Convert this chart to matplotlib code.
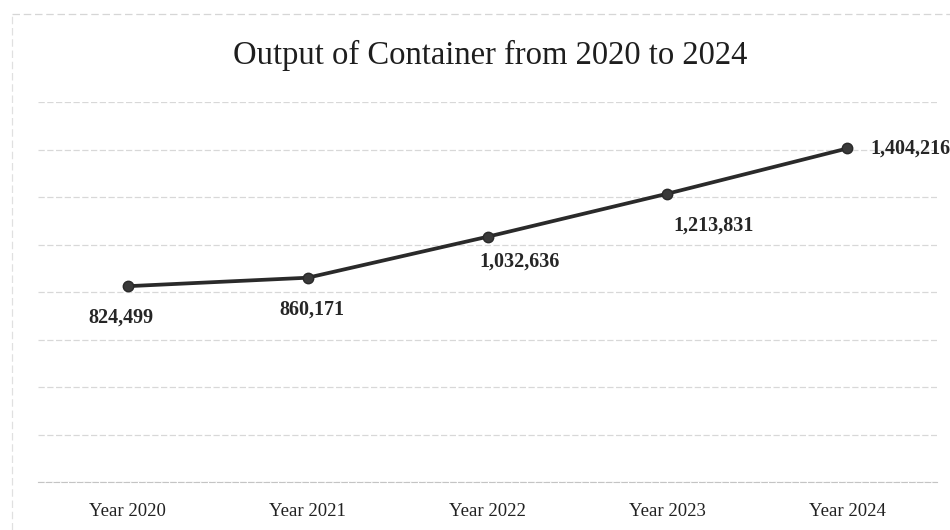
import matplotlib
matplotlib.use("Agg")
import matplotlib.pyplot as plt
from matplotlib.lines import Line2D

years = ["Year 2020", "Year 2021", "Year 2022", "Year 2023", "Year 2024"]
output = [824499, 860171, 1032636, 1213831, 1404216]

# where each value label sits relative to its point (pixels, y down)
label_dx = [-7, 4, 32, 46, 23]
label_dy = [31, 32, 25, 32, 0]

plt.rcParams['font.family'] = ['Liberation Serif', 'DejaVu Serif']

fig = plt.figure(figsize=(9.5, 5.3), dpi=100)
ax = fig.add_axes([38 / 950, 48 / 530, 899 / 950, 380 / 530])

x = list(range(len(years)))
ax.plot(x, output, color='#2a2a2a', linewidth=2.7, marker='o',
        markersize=7.5, markerfacecolor='#3a3a3a', markeredgecolor='#2a2a2a',
        zorder=3)

for i, v in enumerate(output):
    ha = 'left' if i == len(output) - 1 else 'center'
    ax.annotate(f"{v:,}", (i, v), xytext=(label_dx[i], -label_dy[i]),
                textcoords='offset pixels', ha=ha, va='center',
                fontsize=14.5, fontweight='bold', color='#262626',
                annotation_clip=False)

ax.set_xlim(-0.5, len(years) - 0.5)
ax.set_ylim(0, 1600000)
ax.set_yticks(range(0, 1600001, 200000))
ax.set_yticklabels([])
ax.tick_params(axis='y', length=0)
ax.set_xticks(x)
ax.set_xticklabels(years, fontsize=13.5, color='#222222')
ax.tick_params(axis='x', length=0, pad=15)

ax.grid(axis='y', color='#d8d8d8', linewidth=0.9, linestyle=(0, (5, 2)))
ax.set_axisbelow(True)
for s in ['top', 'right', 'left']:
    ax.spines[s].set_visible(False)
ax.spines['bottom'].set_color('#c4c4c4')
ax.spines['bottom'].set_linestyle((0, (5, 2)))

fig.text(490 / 950, 1 - 55 / 530, "Output of Container from 2020 to 2024",
         ha='center', va='center', fontsize=23.5, color='#1e1e1e')

# faint outer chart border from the scan
fig.add_artist(Line2D([12 / 950, 1], [1 - 14 / 530, 1 - 14 / 530],
                      transform=fig.transFigure, color='#d6d6d6',
                      linewidth=0.9, linestyle=(0, (6, 3))))
fig.add_artist(Line2D([12 / 950, 12 / 950], [0, 1 - 14 / 530],
                      transform=fig.transFigure, color='#e0e0e0',
                      linewidth=0.9, linestyle=(0, (6, 3))))

fig.savefig("out.png", dpi=100)
